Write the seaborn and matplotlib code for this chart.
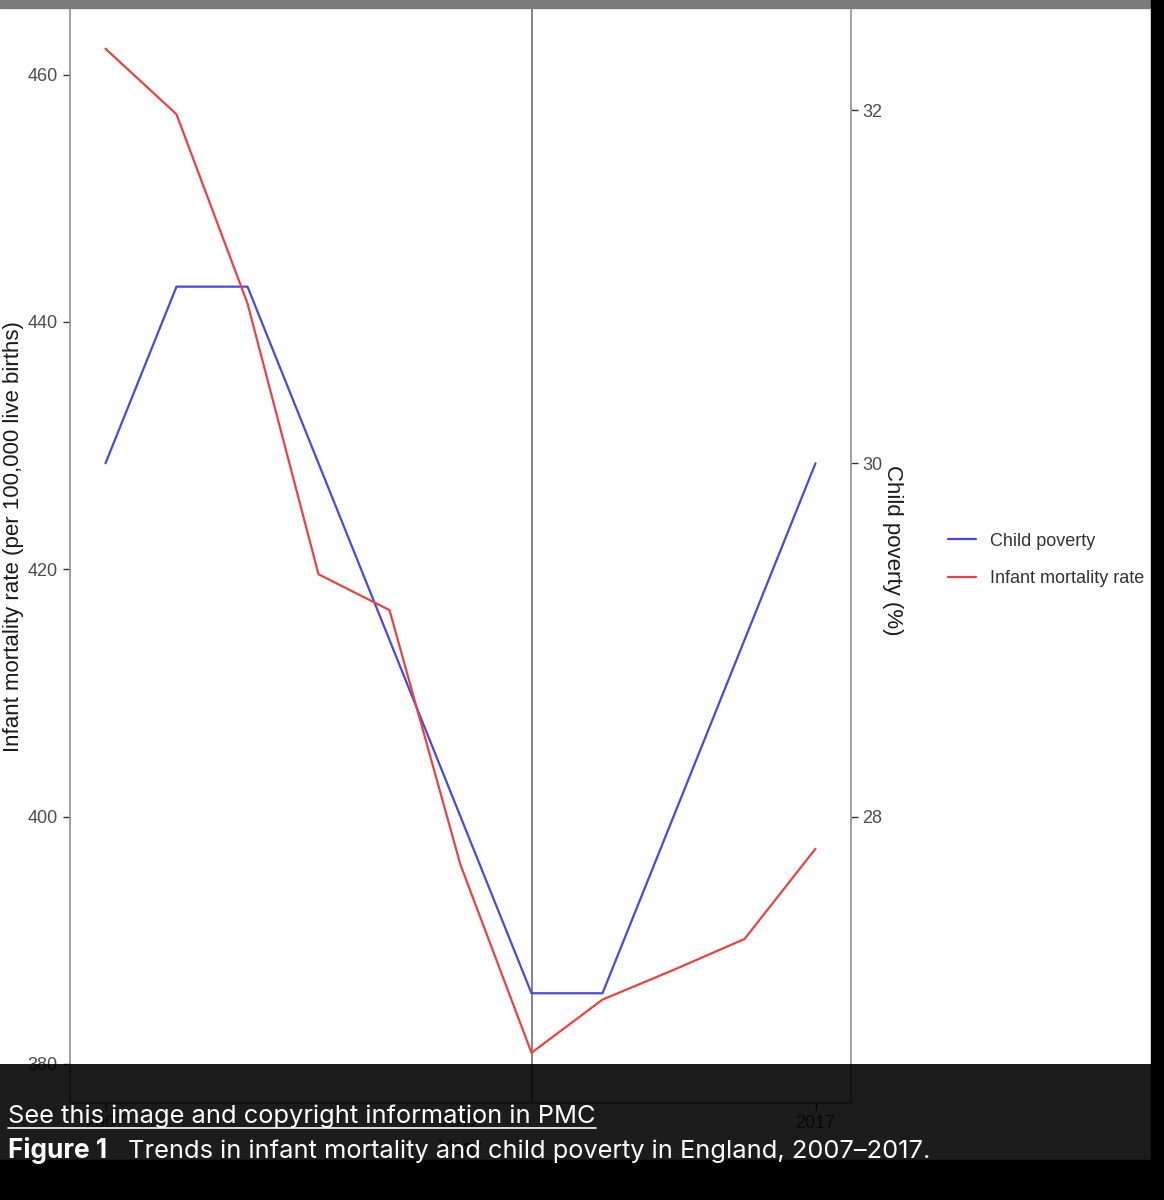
import numpy as np
import pandas as pd
import matplotlib
matplotlib.use("Agg")
import matplotlib.pyplot as plt
import seaborn as sns
from matplotlib.patches import Rectangle
from matplotlib.lines import Line2D

years = [2007, 2008, 2009, 2010, 2011, 2012, 2013, 2014, 2015, 2016, 2017]
child_poverty = [30, 31, 31, 30, 29, 28, 27, 27, 28, 29, 30]
infant_mortality = [462.1, 456.8, 441.5, 419.6, 416.7, 396.1, 380.9, 385.2, 387.6, 390.1, 397.4]
series_names = ["Child poverty", "Infant mortality rate"]
left_ticks = [380, 400, 420, 440, 460]
right_ticks = [28, 30, 32]
year_ticks = [2007, 2012, 2017]
policy_year = 2013

# poverty is drawn on the mortality scale (left = right * 100/7), like sec_axis in ggplot
scale = 100 / 7

df = pd.DataFrame({
    "year": years * 2,
    "value": [v * scale for v in child_poverty] + infant_mortality,
    "series": [series_names[0]] * len(years) + [series_names[1]] * len(years),
})

sns.set_theme(style="white")
plt.rcParams["font.family"] = ["Liberation Sans", "DejaVu Sans"]

W, H = 1164, 1200
fig = plt.figure(figsize=(W / 100, H / 100), dpi=100)
fig.patch.set_facecolor("white")
ax = fig.add_axes([70 / W, 97 / H, 781 / W, 1104.5 / H])

palette = {series_names[0]: "#4848e4", series_names[1]: "#ea4242"}
sns.lineplot(data=df, x="year", y="value", hue="series", hue_order=series_names,
             palette=palette, linewidth=1.6, ax=ax)
ax.axvline(policy_year, color="#707070", lw=1.2, zorder=0)

ax.set_xlim(2006.5, 2017.5)
ax.set_ylim(376.84, 466.16)
ax.set_xticks(year_ticks)
ax.set_yticks(left_ticks)
ax.set_xlabel("Year", fontsize=16, color="#1a1a1a", labelpad=5)
ax.set_ylabel("Infant mortality rate (per 100,000 live births)", fontsize=16, color="#1a1a1a")
ax.yaxis.set_label_coords(-0.059, 0.513)
ax.tick_params(axis="both", labelsize=13, labelcolor="#4d4d4d", color="#333333",
               length=5, width=1, direction="out", pad=4)
ax.tick_params(axis="x", bottom=True)
ax.tick_params(axis="y", left=True)
for s in ax.spines.values():
    s.set_color("#9a9a9a")
    s.set_linewidth(1.3)

sec = ax.secondary_yaxis("right", functions=(lambda v: v / scale, lambda v: v * scale))
sec.set_yticks(right_ticks)
sec.tick_params(labelsize=13, labelcolor="#4d4d4d", color="#333333", length=5,
                width=1, direction="out", pad=3)
sec.spines["right"].set_visible(False)
sec.set_ylabel("Child poverty (%)", fontsize=16, color="#1a1a1a", rotation=-90,
               labelpad=15)

handles, labels = ax.get_legend_handles_labels()
ax.get_legend().remove()
fig.legend(handles, labels, loc="center left", bbox_to_anchor=(939 / W, 1 - 560 / H),
           frameon=False, fontsize=13, handlelength=1.55, handletextpad=0.78,
           labelspacing=1.15, borderpad=0, labelcolor="#333333")

# screenshot chrome: top bar, right black strip, caption overlay
fig.add_artist(Rectangle((0, 1 - 8 / H), 1, 8 / H, transform=fig.transFigure,
                         color="#7b7b7b", zorder=20))
fig.add_artist(Rectangle((1151 / W, 0), 13 / W, 1, transform=fig.transFigure,
                         color="black", zorder=21))
fig.add_artist(Rectangle((0, 40 / H), 1, 96 / H, transform=fig.transFigure,
                         facecolor="black", edgecolor="none", alpha=0.89, zorder=20))
fig.add_artist(Rectangle((0, 0), 1, 40 / H, transform=fig.transFigure,
                         color="black", zorder=20))

renderer = fig.canvas.get_renderer()
cap_font = ["Inter", "DejaVu Sans"]


def caption(x, y, s, width_px, **kw):
    # size the caption text so it spans the same width as in the screenshot
    t = fig.text(x / W, 1 - y / H, s, color="white", fontsize=18, family=cap_font,
                 va="baseline", ha="left", zorder=30, **kw)
    w = t.get_window_extent(renderer=renderer).width
    t.set_fontsize(18 * width_px / w)
    return t


t1 = caption(8, 1123, "See this image and copyright information in PMC", 587)
caption(8, 1158, "Figure 1", 99, fontweight="bold")
caption(128, 1158, "Trends in infant mortality and child poverty in England, 2007\u20132017.", 800)

bb = t1.get_window_extent(renderer=renderer)
uy = 1 - 1127.5 / H
fig.add_artist(Line2D([bb.x0 / W, bb.x1 / W], [uy, uy], transform=fig.transFigure,
                      color="white", lw=1.2, zorder=30))

fig.savefig("out.png", dpi=100)
